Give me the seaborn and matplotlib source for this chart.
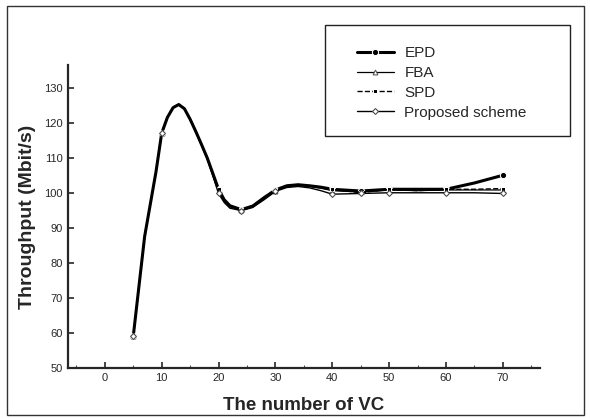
import matplotlib
matplotlib.use("Agg")
import matplotlib.pyplot as plt
import seaborn as sns
import pandas as pd
from matplotlib.patches import Rectangle

# values
vc = [5, 7, 9, 10, 11, 12, 13, 14, 15, 16, 17, 18, 19, 20, 21, 22, 24, 26, 28,
      30, 32, 34, 36, 38, 40, 45, 50, 55, 60, 65, 70]
epd = [59, 87.5, 106, 117, 121.5, 124.3, 125.2, 124, 121, 117.5, 113.8, 110, 105.5,
       101, 98, 96.3, 95.2, 96.2, 98.6, 100.8, 102, 102.3, 102, 101.6,
       101, 100.5, 101, 101, 101, 102.8, 105]
fba = [59, 87.5, 106, 117, 121.5, 124.3, 125.2, 124, 121, 117.5, 113.8, 110, 105.5,
       100.6, 97.6, 96, 95.0, 96.0, 98.4, 100.6, 101.8, 102.1, 101.8, 101.3,
       100.6, 100.2, 100.8, 100.6, 100.8, 100.8, 100.8]
spd = [59, 87.5, 106, 117, 121.5, 124.3, 125.2, 124, 121, 117.5, 113.8, 110, 105.5,
       101, 98, 96.3, 95.2, 96.2, 98.6, 100.8, 102, 102.3, 102, 101.6,
       101, 100, 101, 100.6, 101, 101, 101.2]
proposed = [59, 87.5, 106, 117, 121.5, 124.3, 125.2, 124, 121, 117.5, 113.6, 109.6, 104.8,
            99.8, 97.2, 95.6, 94.9, 95.8, 98.0, 100.4, 101.5, 101.8, 101.4, 100.6,
            99.6, 99.8, 100, 100, 100, 100, 99.8]
marker_vc = [5, 10, 20, 24, 30, 40, 45, 50, 60, 70]

x_ticks = [0, 10, 20, 30, 40, 50, 60, 70]
y_ticks = [50, 60, 70, 80, 90, 100, 110, 120, 130]

df = pd.DataFrame({"VC": vc, "EPD": epd, "FBA": fba, "SPD": spd,
                   "Proposed scheme": proposed})
mk = [vc.index(v) for v in marker_vc]

sns.set_style("ticks")
plt.rcParams["font.family"] = ["Liberation Sans", "DejaVu Sans"]

fig = plt.figure(figsize=(5.9, 4.19), dpi=100)
ax = fig.add_axes([0.115, 0.122, 0.80, 0.723])

sns.lineplot(data=df, x="VC", y="EPD", ax=ax, color="black", lw=2.2,
             marker="o", ms=4.5, markevery=mk, label="EPD")
sns.lineplot(data=df, x="VC", y="FBA", ax=ax, color="black", lw=0.9,
             marker="^", ms=3.5, mfc="white", mec="#555555", markevery=mk, label="FBA")
sns.lineplot(data=df, x="VC", y="SPD", ax=ax, color="black", lw=1.0, ls="--",
             marker="s", ms=3.5, markevery=mk, label="SPD")
sns.lineplot(data=df, x="VC", y="Proposed scheme", ax=ax, color="black", lw=1.0,
             marker="D", ms=3, mfc="white", mec="#444444", markevery=mk,
             label="Proposed scheme")

ax.set_xlim(-6.5, 76.5)
ax.set_ylim(50, 136.5)
ax.set_xticks(x_ticks)
ax.set_yticks(y_ticks)
ax.set_xticks(range(-5, 80, 10), minor=True)
ax.tick_params(axis="both", direction="in", labelsize=8, length=4, width=1.2)
ax.tick_params(which="minor", direction="in", length=2)
sns.despine(ax=ax)
ax.spines["left"].set_linewidth(1.6)
ax.spines["bottom"].set_linewidth(1.6)

ax.set_xlabel("The number of VC", fontsize=13.5, fontweight="bold", labelpad=10)
ax.set_ylabel("Throughput (Mbit/s)", fontsize=14, fontweight="bold", labelpad=6)

# legend without frame, box drawn separately
leg = ax.legend(loc="upper left", bbox_to_anchor=(0.605, 0.89),
                bbox_transform=fig.transFigure, fontsize=11, frameon=False,
                handlelength=2.4, handletextpad=0.7, labelspacing=0.38,
                borderpad=0, borderaxespad=0)
fig.patches.append(Rectangle((325 / 590, 1 - 136 / 419), 245 / 590, 111 / 419,
                             transform=fig.transFigure, fill=False,
                             edgecolor="#222222", lw=1.0))

fig.patches.append(Rectangle((0.012, 0.01), 0.978, 0.975, transform=fig.transFigure,
                             fill=False, edgecolor="#333333", lw=1.0))

fig.savefig("out.png", dpi=100)
